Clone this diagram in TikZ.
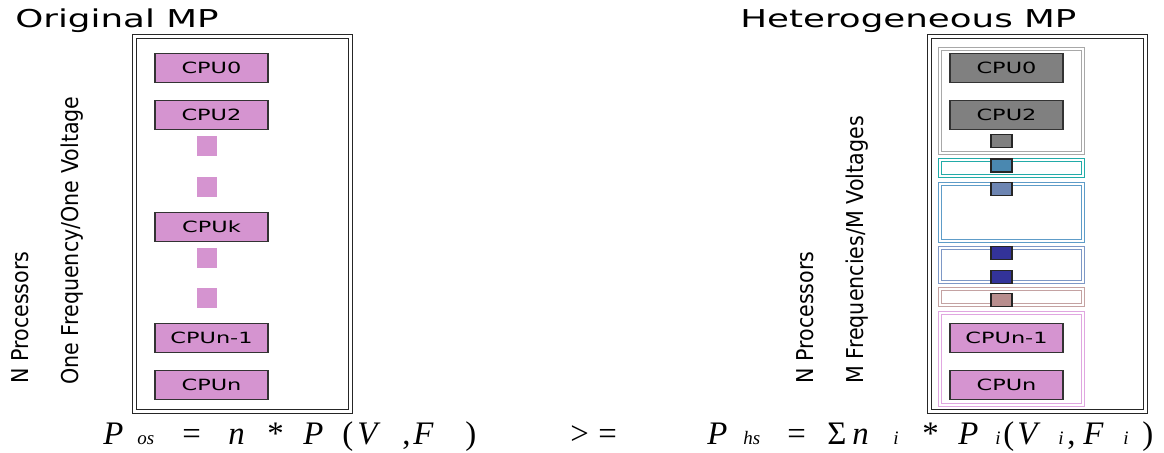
\documentclass[tikz,border=0pt]{standalone}
\usepackage{fontspec}
\usepackage{graphicx}
\usepackage{xcolor}
\usepackage{tikz}
\usetikzlibrary{positioning}
\setmainfont{Liberation Serif}
\newfontfamily\labelsf{DejaVu Sans}
\newcommand{\titlefnt}{\labelsf\fontsize{14}{16}\selectfont}
\newcommand{\cpufnt}{\labelsf\fontsize{8.8}{10}\selectfont}
\newcommand{\sidefnt}{\labelsf\fontsize{13.2}{15}\selectfont}
\newcommand{\eqfnt}{\rmfamily\fontsize{18.7}{20}\selectfont}
\newcommand{\subfnt}{\rmfamily\fontsize{10.8}{12}\selectfont}
\newcommand{\wide}[1]{\scalebox{1.45}[1]{#1}}
\newcommand{\squeeze}[1]{\scalebox{0.89}[1]{#1}}
\definecolor{cpupink}{HTML}{D594D0}
\definecolor{cpugray}{HTML}{808080}
\definecolor{sqteal}{HTML}{4A88B0}
\definecolor{sqblue}{HTML}{6D85B2}
\definecolor{sqnavy}{HTML}{333399}
\definecolor{sqrosy}{HTML}{B88E8E}
\definecolor{grpgray}{HTML}{A8A8A8}
\definecolor{grpteal}{HTML}{22ABA8}
\definecolor{grpblue}{HTML}{5E9CC8}
\definecolor{grpslate}{HTML}{7E98C6}
\definecolor{grprosy}{HTML}{C4A2A2}
\definecolor{grppink}{HTML}{E0A6E0}

\begin{document}
\begin{tikzpicture}[x=0.02cm, y=-0.02cm,
  mpframe/.style={draw=black!85, double, double distance=1.2pt, line width=0.9pt},
  grp/.style={draw=#1, double, double distance=1.1pt, line width=0.7pt},
  cpu/.style={draw=black!80, line width=0.6pt, fill=#1, minimum width=2.26cm, minimum height=0.58cm, inner sep=0pt, font=\cpufnt},
  dotbox/.style={fill=cpupink, minimum size=0.4cm, inner sep=0pt},
  sq/.style={draw=black!85, line width=0.6pt, fill=#1, minimum width=0.42cm, minimum height=0.26cm, inner sep=0pt},
  mptitle/.style={anchor=base west, inner sep=0pt, font=\titlefnt},
  sidetext/.style={rotate=90, anchor=base west, inner sep=0pt, font=\sidefnt},
  eqop/.style={anchor=base west, inner sep=0pt, font=\eqfnt},
  eqit/.style={anchor=base west, inner sep=0pt, font=\eqfnt\itshape},
  eqsub/.style={anchor=base west, inner sep=0pt, font=\subfnt\itshape}]
\useasboundingbox (0,0) rectangle (1164,453);

\node[mptitle] (t1) at (15,28) {\wide{Original MP}};
\node[mptitle] (t2) at (740,28) {\wide{Heterogeneous MP}};

\node[sidetext] (np1) at (29,384) {\squeeze{N Processors}};
\node[sidetext] (of) at (78,385) {\squeeze{One Frequency/One Voltage}};
\node[sidetext] (np2) at (813,384) {\squeeze{N Processors}};
\node[sidetext] (mf) at (863,384) {\squeeze{M Frequencies/M Voltages}};

\draw[mpframe] (134.5,36.5) rectangle (350.5,411.5);
\node[cpu=cpupink] (a0) at (211.5,68) {\wide{CPU0}};
\node[cpu=cpupink] (a2) at (211.5,115) {\wide{CPU2}};
\node[dotbox] (d1) at (207,146) {};
\node[dotbox] (d2) at (207,187) {};
\node[cpu=cpupink] (ak) at (211.5,227) {\wide{CPUk}};
\node[dotbox] (d3) at (207,258) {};
\node[dotbox] (d4) at (207,298) {};
\node[cpu=cpupink] (an1) at (211.5,338) {\wide{CPUn-1}};
\node[cpu=cpupink] (an) at (211.5,385) {\wide{CPUn}};

\draw[mpframe] (929.5,36.5) rectangle (1145.5,411.5);
\draw[grp=grpgray] (940,49) rectangle (1083,153);
\draw[grp=grpteal] (940,160) rectangle (1083,176);
\draw[grp=grpblue] (940,184) rectangle (1083,241);
\draw[grp=grpslate] (940,248) rectangle (1083,282);
\draw[grp=grprosy] (940,289) rectangle (1083,305);
\draw[grp=grppink] (940,313) rectangle (1083,405);
\node[cpu=cpugray] (b0) at (1006.5,68) {\wide{CPU0}};
\node[cpu=cpugray] (b2) at (1006.5,115) {\wide{CPU2}};
\node[sq=cpugray] (s1) at (1001.5,141) {};
\node[sq=sqteal] (s2) at (1001.5,165.5) {};
\node[sq=sqblue] (s3) at (1001.5,189) {};
\node[sq=sqnavy] (s4) at (1001.5,253) {};
\node[sq=sqnavy] (s5) at (1001.5,277) {};
\node[sq=sqrosy] (s6) at (1001.5,300) {};
\node[cpu=cpupink] (bn1) at (1006.5,338) {\wide{CPUn-1}};
\node[cpu=cpupink] (bn) at (1006.5,385) {\wide{CPUn}};

\node[eqit] (p1) at (103,444) {P};
\node[eqsub] (os) at (137,444) {os};
\node[eqop] (e1) at (182,444) {=};
\node[eqit] (n1) at (228,444) {n};
\node[eqop] (m1) at (267,444) {*};
\node[eqit] (p2) at (303,444) {P};
\node[eqop] (l1) at (342,444) {(};
\node[eqit] (v1) at (357,444) {V};
\node[eqop] (c1) at (402,444) {,};
\node[eqit] (f1) at (413,444) {F};
\node[eqop] (r1) at (465,444) {)};
\node[eqop] (gt) at (570,444) {>};
\node[eqop] (ge) at (598,444) {=};

\node[eqit] (p3) at (707,444) {P};
\node[eqsub] (hs) at (743,444) {hs};
\node[eqop] (e2) at (787,444) {=};
\node[eqop] (sig) at (827,444) {Σ};
\node[eqit] (n2) at (852,444) {n};
\node[eqsub] (i1) at (893,444) {i};
\node[eqop] (m2) at (922,444) {*};
\node[eqit] (p4) at (958,444) {P};
\node[eqsub] (i2) at (995,444) {i};
\node[eqop] (l2) at (1003,444) {(};
\node[eqit] (v2) at (1017,444) {V};
\node[eqsub] (i3) at (1058,444) {i};
\node[eqop] (c2) at (1067,444) {,};
\node[eqit] (f2) at (1083,444) {F};
\node[eqsub] (i4) at (1123,444) {i};
\node[eqop] (r2) at (1142,444) {)};
\end{tikzpicture}
\end{document}
